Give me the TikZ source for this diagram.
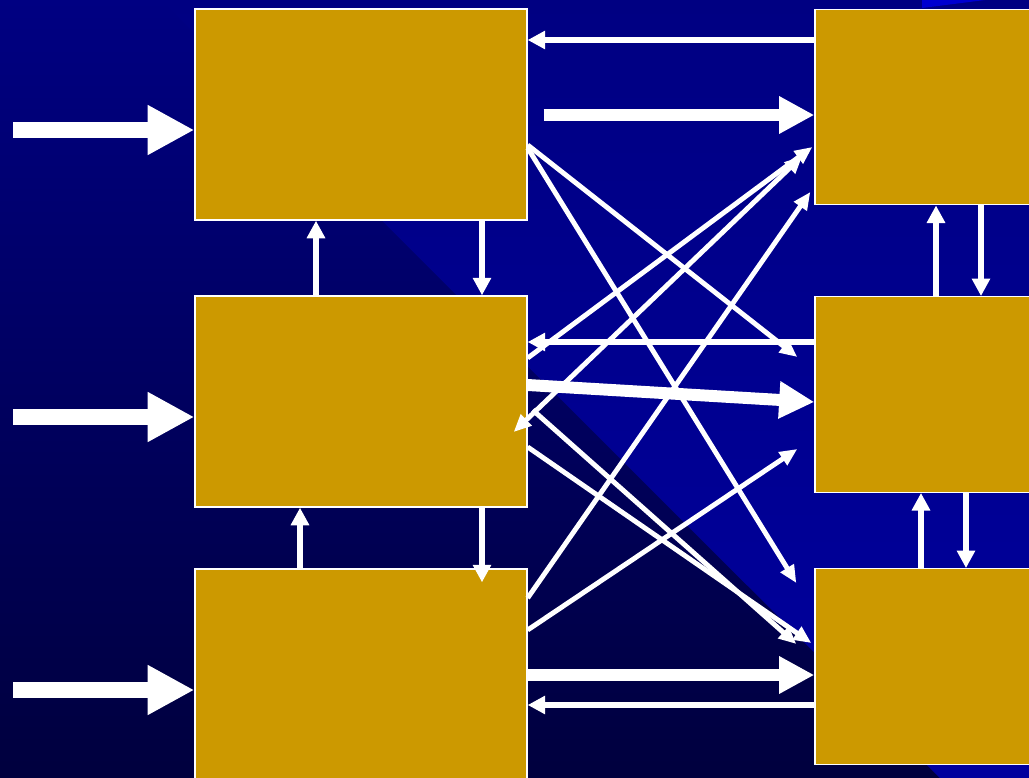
\documentclass[tikz,border=0pt]{standalone}
\usetikzlibrary{arrows.meta,calc}
\definecolor{gold}{HTML}{CC9900}
\definecolor{navytop}{HTML}{000082}
\definecolor{navybot}{HTML}{00003E}
\definecolor{bandtop}{HTML}{000082}
\definecolor{bandbot}{HTML}{00009E}
\definecolor{glow}{HTML}{0000D0}
\begin{document}
\begin{tikzpicture}[x=0.02cm, y=-0.02cm,
        blockL/.style={rectangle, draw=white, line width=0.8pt, fill=gold, minimum width=6.64cm, minimum height=4.22cm},
        blockR/.style={rectangle, draw=white, line width=0.8pt, fill=gold, minimum width=4.6cm, minimum height=3.91cm},
        feed/.style={draw=white, line width=9.6pt, -{Triangle[length=26.6pt, width=26.6pt]}},
        flow/.style={draw=white, line width=6.8pt, -{Triangle[length=20pt, width=20pt]}},
        link/.style={draw=white, line width=3.2pt, -{Triangle[length=10pt, width=10pt]}},
        cross/.style={draw=white, line width=2.8pt, -{Triangle[length=10pt, width=8.5pt]}},
        crossboth/.style={draw=white, line width=2.8pt, {Triangle[length=10pt, width=8.5pt]}-{Triangle[length=10pt, width=8.5pt]}}
    ]
        % Background
        \useasboundingbox (0,0) rectangle (1029,778);
        \clip (0,0) rectangle (1029,778);
        \shade[top color=navytop, bottom color=navybot] (0,0) rectangle (1029,778);
        \shade[top color=bandtop, bottom color=bandbot] (161,0) -- (1029,0) -- (1029,778) -- (940,778) -- cycle;
        \fill[glow] (922,0) -- (922,8) -- (985,0) -- cycle;

        % Blocks
        \node[blockL] (l1) at (361,114.5) {};
        \node[blockL] (l2) at (361,401.5) {};
        \node[blockL] (l3) at (361,674.5) {};
        \node[blockR] (r1) at (930,107) {};
        \node[blockR] (r2) at (930,394.5) {};
        \node[blockR] (r3) at (930,666.5) {};

        % Inputs
        \coordinate (in1) at (13,130);
        \coordinate (in2) at (13,417);
        \coordinate (in3) at (13,690);
        \draw[feed] (in1) -- (l1.west |- in1);
        \draw[feed] (in2) -- (l2.west |- in2);
        \draw[feed] (in3) -- (l3.west |- in3);

        % Left column
        \draw[link] (l2.north -| 316,0) -- (l1.south -| 316,0);
        \draw[link] (l1.south -| 482,0) -- (l2.north -| 482,0);
        \draw[link] (l3.north -| 300,0) -- (l2.south -| 300,0);
        \draw[link] (l2.south -| 482,0) -- ($(l3.north -| 482,0)+(0,14)$);

        % Right column
        \draw[link] (r2.north -| 936,0) -- (r1.south -| 936,0);
        \draw[link] (r1.south -| 981,0) -- (r2.north -| 981,0);
        \draw[link] (r3.north -| 921,0) -- (r2.south -| 921,0);
        \draw[link] (r2.south -| 966,0) -- (r3.north -| 966,0);

        % Straight links
        \draw[link] (r1.west |- 0,40) -- (l1.east |- 0,40);
        \draw[flow] ($(l1.east |- 0,115)+(16,0)$) -- (r1.west |- 0,115);
        \draw[link] (r2.west |- 0,342) -- (l2.east |- 0,342);
        \draw[flow] (l2.east |- 0,385) -- (r2.west |- 0,402);
        \draw[flow] (l3.east |- 0,675) -- (r3.west |- 0,675);
        \draw[link] (r3.west |- 0,705) -- (l3.east |- 0,705);

        % Cross links
        \draw[cross] (l1.east |- 0,145) -- ($(r2.west |- 0,357)+(-17,0)$);
        \draw[cross] (l1.east |- 0,148) -- ($(r3.west |- 0,583)+(-18,0)$);
        \draw[cross] (l2.east |- 0,358) -- ($(r1.west |- 0,147)+(-2,0)$);
        \draw[crossboth] ($(l2.east |- 0,432)+(-14,0)$) -- ($(r1.west |- 0,156)+(-12,0)$);
        \draw[cross] (l3.east |- 0,598) -- ($(r1.west |- 0,192)+(-4,0)$);
        \draw[cross] (l3.east |- 0,630) -- ($(r2.west |- 0,449)+(-17,0)$);
        \draw[cross] (l2.east |- 0,447) -- ($(r3.west |- 0,643)+(-3,0)$);
        \draw[cross] ($(l2.east |- 0,410)+(5,0)$) -- ($(r3.west |- 0,644)+(-18,0)$);
    \end{tikzpicture}
\end{document}
